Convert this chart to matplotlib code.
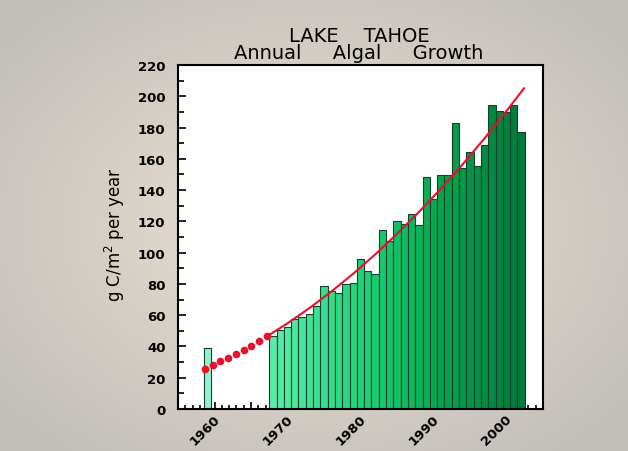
"""
    Lake Tahoe annual algal growth chart
"""
import numpy as np
import matplotlib
matplotlib.use('Agg')
import matplotlib.pyplot as plt
from matplotlib.colors import LinearSegmentedColormap
from matplotlib.ticker import MultipleLocator, FixedLocator
import matplotlib.transforms as mtransforms

# bar data (g C / m^2 per year)
YEARS = [1959] + list(range(1968, 2003))
GROWTH = [39.0,
          46.9, 50.5, 52.7, 57.6, 59.1, 60.8, 65.7, 78.9, 75.7, 74.2,
          80.0, 80.4, 95.9, 88.0, 86.3, 114.5, 107.7, 120.0, 118.5, 124.7,
          117.9, 148.2, 134.3, 149.7, 149.7, 182.9, 154.1, 164.6, 155.2, 168.8,
          194.6, 190.8, 190.2, 194.4, 177.3]

# trend curve
DOT_YEARS = [1958.7, 1959.8, 1960.8, 1961.9, 1962.9, 1964.0, 1965.0, 1966.1, 1967.2]
DOT_VALS = [25.9, 28.1, 30.4, 32.8, 35.2, 38.0, 40.5, 43.5, 46.5]
LINE_YEARS = [1967.2, 1970, 1973, 1976, 1979, 1982, 1985, 1988, 1991, 1994, 1997, 2000, 2002.4]
LINE_VALS = [46.5, 54.8, 64.5, 75.1, 86.5, 98.8, 112.0, 126.0, 140.8, 156.5, 173.1, 190.6, 205.1]

DECADE_LABELS = ['1960', '', '1970', '', '1980', '', '1990', '', '2000']


def main():
    fig = plt.figure(figsize=(6.28, 4.52), dpi=100)

    # slide background, beige centre fading to grey
    bg = fig.add_axes([0, 0, 1, 1], zorder=-10)
    yy, xx = np.mgrid[-1:1:200j, -1:1:280j]
    r = np.clip(np.sqrt(xx ** 2 + yy ** 2) / 1.3, 0, 1)[..., None]
    c_in = np.array([236, 226, 212]) / 255
    c_out = np.array([194, 190, 186]) / 255
    bg.imshow(c_in * (1 - r) + c_out * r, aspect='auto', extent=[0, 1, 0, 1])
    bg.axis('off')

    ax = fig.add_axes([178 / 628, 1 - 410 / 452, 365 / 628, 344 / 452])
    ax.set_facecolor('white')

    cmap = LinearSegmentedColormap.from_list(
        'tahoe', ['#92f2cc', '#50eaa2', '#1cd27a', '#04a44e', '#007a3a'])
    cols = [cmap((y - 1959) / (2002 - 1959)) for y in YEARS]
    ax.bar(YEARS, GROWTH, width=1.0, color=cols, edgecolor='#17402a', linewidth=0.8, zorder=2)

    ax.plot(DOT_YEARS, DOT_VALS, ls='none', marker='o', ms=4.5, color='#e8102a', zorder=3)
    ax.plot(LINE_YEARS, LINE_VALS, color='#e8102a', lw=1.5, zorder=3)

    ax.set_xlim(1955, 2005)
    ax.set_ylim(0, 220)

    ax.xaxis.set_major_locator(FixedLocator(range(1960, 2001, 5)))
    ax.set_xticklabels(DECADE_LABELS)
    ax.xaxis.set_minor_locator(MultipleLocator(1))
    ax.yaxis.set_major_locator(MultipleLocator(20))
    ax.yaxis.set_minor_locator(MultipleLocator(10))
    ax.tick_params(which='both', direction='in', color='black', width=1.2)
    ax.tick_params(axis='x', which='major', length=5, pad=2)
    ax.tick_params(axis='x', which='minor', length=3)
    ax.tick_params(axis='y', which='major', length=6, pad=9)
    ax.tick_params(axis='y', which='minor', length=4)

    for lab in ax.get_yticklabels():
        lab.set_fontweight('bold')
        lab.set_fontsize(9.5)
        lab.set_family('DejaVu Sans')
    offset = mtransforms.ScaledTranslation(8 / 100, 0, fig.dpi_scale_trans)
    for lab in ax.get_xticklabels():
        lab.set_fontweight('bold')
        lab.set_fontsize(9.5)
        lab.set_family('DejaVu Sans')
        lab.set_rotation(45)
        lab.set_ha('right')
        lab.set_transform(lab.get_transform() + offset)

    for sp in ax.spines.values():
        sp.set_linewidth(1.5)

    fig.text(115 / 628, 1 - 235 / 452, 'g C/m$^2$ per year', rotation=90,
             ha='center', va='center', fontsize=12, family='DejaVu Sans')

    fig.text(359 / 628, 1 - 45 / 452, 'LAKE    TAHOE\nAnnual     Algal     Growth',
             ha='center', va='center', multialignment='center', linespacing=0.85,
             fontsize=14, family='DejaVu Sans')

    fig.savefig('out.png', dpi=100)


if __name__ == '__main__':
    main()
